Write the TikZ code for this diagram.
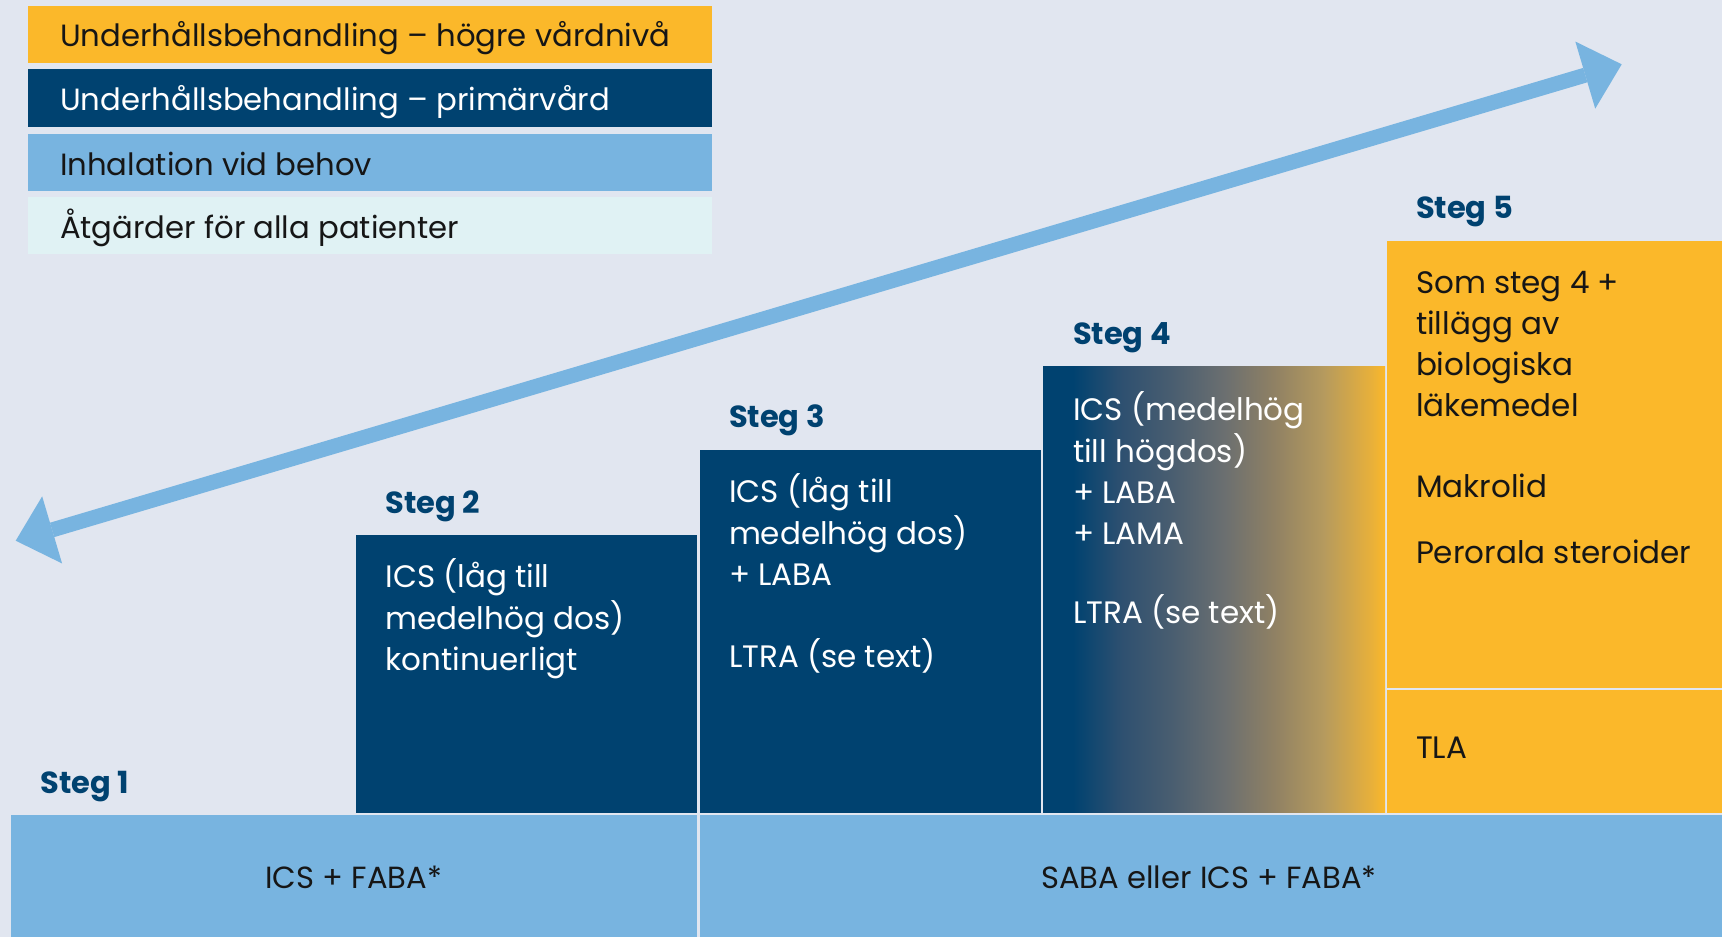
\documentclass[tikz,border=0pt]{standalone}
\usepackage{fontspec}
\setmainfont{Poppins}
\usetikzlibrary{arrows.meta}
\definecolor{bg}{HTML}{E1E6F0}
\definecolor{orng}{HTML}{FBB82A}
\definecolor{navy}{HTML}{004270}
\definecolor{lblue}{HTML}{78B4E0}
\definecolor{pale}{HTML}{E0F2F4}
\definecolor{txt}{HTML}{161616}
\definecolor{gA}{HTML}{2E5070}
\definecolor{gB}{HTML}{4A5E70}
\definecolor{gC}{HTML}{6B6F70}
\definecolor{gD}{HTML}{8E8064}
\definecolor{gE}{HTML}{B59A5E}
\definecolor{gF}{HTML}{E8B03A}
\pgfdeclarehorizontalshading{navyorng}{100bp}{color(0bp)=(navy); color(29.4bp)=(navy); color(36.5bp)=(gA); color(44bp)=(gB); color(51.5bp)=(gC); color(58.5bp)=(gD); color(66bp)=(gE); color(73bp)=(gF); color(75bp)=(orng); color(100bp)=(orng)}
\begin{document}
\begin{tikzpicture}[x=1pt,y=-1pt,
  every node/.style={inner sep=0pt,outer sep=0pt},
  legtext/.style={anchor=base west,font=\fontsize{30.7}{41}\selectfont,text=txt},
  boxtext/.style={anchor=north west,align=left,font=\fontsize{31}{41}\selectfont,text=white},
  steglabel/.style={anchor=base west,font=\fontsize{30.5}{41}\selectfont\bfseries,text=navy},
  bandtext/.style={anchor=base,font=\fontsize{30.6}{41}\selectfont,text=txt},
  bigarrow/.style={lblue,line width=15pt,
    {Triangle[length=38pt,width=70pt,line width=0pt]}-{Triangle[length=38pt,width=70pt,line width=0pt]}}]
\fill[bg] (0,0) rectangle (1722,937);
\useasboundingbox (0,0) rectangle (1722,937);
% legend
\fill[orng] (27.5,6) rectangle (712,62.7);
\fill[navy] (27.5,69.3) rectangle (712,126.7);
\fill[lblue] (27.5,134) rectangle (712,190.7);
\fill[pale] (27.5,197.3) rectangle (712,254);
\node[legtext] (l1) at (60,46.5) {Underhållsbehandling – högre vårdnivå};
\node[legtext,text=white] (l2) at (60,110) {Underhållsbehandling – primärvård};
\node[legtext] (l3) at (60,175) {Inhalation vid behov};
\node[legtext] (l4) at (60,238.5) {Åtgärder för alla patienter};
% arrow
\coordinate (aL) at (15.7,540.7);
\coordinate (aR) at (1621.7,64.3);
\draw[bigarrow] (aL) -- (aR);
% step boxes
\fill[navy] (356,535) rectangle (697,812.5);
\fill[navy] (700,450) rectangle (1041,812.5);
\shade[shading=navyorng] (1043,366) rectangle (1385,812.5);
\fill[orng] (1387,240.5) rectangle (1722,687.5);
\fill[orng] (1387,690) rectangle (1722,812.5);
\fill[lblue] (11,814.5) rectangle (697,937);
\fill[lblue] (699.5,814.5) rectangle (1722,937);
% step labels
\node[steglabel] (s1) at (40.5,793) {Steg 1};
\node[steglabel] (s2) at (385.5,513) {Steg 2};
\node[steglabel] (s3) at (729,427.5) {Steg 3};
\node[steglabel] (s4) at (1073,344) {Steg 4};
\node[steglabel] (s5) at (1416,218) {Steg 5};
% box texts
\node[boxtext] (t2) at (385.5,558.3) {\strut ICS (låg till\\medelhög dos)\\kontinuerligt};
\node[boxtext] (t3) at (729,473.3) {\strut ICS (låg till\\medelhög dos)\\+ LABA\\[41pt]LTRA (se text)};
\node[boxtext] (t4) at (1073,391.3) {\strut ICS (medelhög\\till högdos)\\+ LABA\\+ LAMA\\[38pt]LTRA (se text)};
\node[boxtext,text=txt] (t5) at (1416,264.3) {\strut Som steg 4 +\\tillägg av\\biologiska\\läkemedel\\[40pt]Makrolid\\[25.5pt]Perorala steroider};
\node[legtext,font=\fontsize{31}{41}\selectfont] (tla) at (1416,758) {TLA};
% band texts
\node[bandtext] (b1) at (353.6,888) {ICS + FABA*};
\node[bandtext] (b2) at (1209,888) {SABA eller ICS + FABA*};
\end{tikzpicture}
\end{document}
